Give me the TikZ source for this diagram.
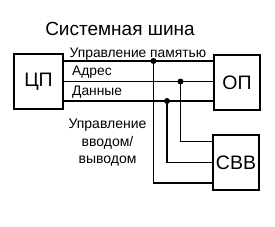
\documentclass[tikz,border=0pt]{standalone}
\usepackage{fontspec}
\setmainfont{Liberation Sans}
\begin{document}
\begin{tikzpicture}[x=1pt,y=-1pt,
  unit/.style={draw, line width=1.8pt, inner sep=0pt, font=\fontsize{19.5}{19.5}\selectfont},
  bus/.style={line width=1.2pt},
  lbl/.style={inner sep=0pt, font=\fontsize{13.8}{13.8}\selectfont},
  dot/.style={circle, fill, inner sep=0pt, minimum size=6pt}]
\useasboundingbox (0,0) rectangle (275,226);
\node[unit, minimum width=49pt, minimum height=55pt] (cpu) at (38.5,81.5) {ЦП};
\node[unit, minimum width=46pt, minimum height=55pt] (op) at (237,82.5) {ОП};
\node[unit, minimum width=46pt, minimum height=55pt] (svv) at (236,162.5) {СВВ};
\node[inner sep=0pt, anchor=base, font=\fontsize{19}{19}\selectfont] (title) at (120,35) {Системная шина};
\coordinate (d1) at (153.5,61);
\coordinate (d2) at (180.5,81.5);
\coordinate (d3) at (167,101);
\draw[bus] (cpu.east |- d1) -- (op.west |- d1);
\draw[bus] (cpu.east |- d2) -- (op.west |- d2);
\draw[bus] (cpu.east |- d3) -- (op.west |- d3);
\draw[bus] (d1) |- ([yshift=8pt]svv.south west);
\draw[bus] (d3) |- (svv.west);
\draw[bus] (d2) |- ([yshift=-7pt]svv.north west);
\node[dot] (p1) at (d1) {};
\node[dot] (p2) at (d2) {};
\node[dot] (p3) at (d3) {};
\node[lbl, anchor=base west] (l1) at (69.5,57.5) {Управление памятью};
\node[lbl, anchor=base west] (l2) at (72,75.5) {Адрес};
\node[lbl, anchor=base west] (l3) at (72,95) {Данные};
\node[lbl, align=center, anchor=north, font=\fontsize{14}{17.5}\selectfont] (l4) at (107.5,119) {Управление\\вводом/\\выводом};
\end{tikzpicture}
\end{document}
